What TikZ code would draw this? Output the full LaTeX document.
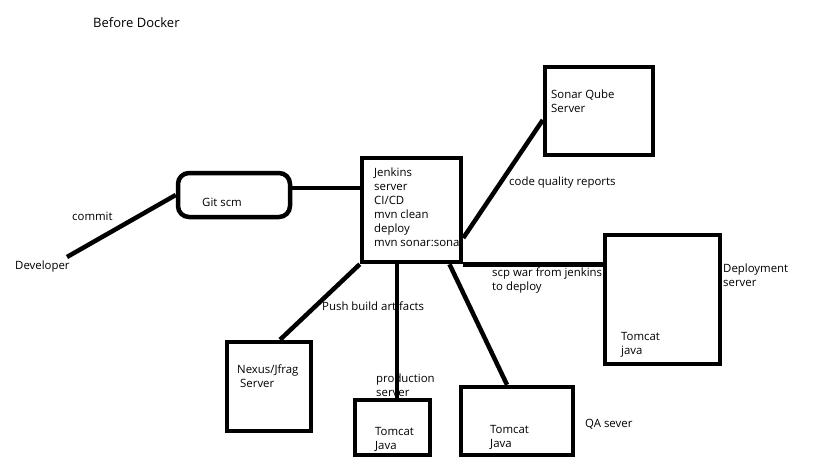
\documentclass[tikz,border=0pt]{standalone}
\usepackage{fontspec}
\setmainfont{Open Sans}
\usetikzlibrary{positioning}

\begin{document}
\begin{tikzpicture}
[x=1pt,y=-1pt,
font=\fontsize{11.4}{14}\selectfont,
server/.style={draw,line width=4.5pt,inner sep=0pt},
txt/.style={anchor=west,inner sep=0pt,align=left},
link/.style={line width=4.5pt}]

\useasboundingbox (0,0) rectangle (819,460);

% boxes
\node [server,rounded corners=11pt,minimum width=112pt,minimum height=44pt] (git) at (234,195) {};
\node [server,minimum width=99pt,minimum height=104pt] (jenkins) at (411.5,210) {};
\node [server,minimum width=108pt,minimum height=88pt] (sonar) at (599,111) {};
\node [server,minimum width=115pt,minimum height=129pt] (deploy) at (662.5,299.5) {};
\node [server,minimum width=84pt,minimum height=89pt] (nexus) at (269,386.5) {};
\node [server,minimum width=75pt,minimum height=55pt] (prod) at (392.5,427.5) {};
\node [server,minimum width=112pt,minimum height=68pt] (qa) at (517,421) {};

% texts
\node [txt,font=\fontsize{13}{15}\selectfont] (title) at (93,23) {Before Docker};
\node [txt] (dev) at (15,267) {Developer};
\node [txt] (commit) at (72,216) {commit};
\node [txt] (gittext) at (202,202) {Git scm};
\node [txt] (jenkinstext) at (374,207) {Jenkins\\server\\CI/CD\\mvn clean\\deploy\\mvn sonar:sona};
\node [txt] (sonartext) at (551,101) {Sonar Qube\\Server};
\node [txt] (reports) at (509,183) {code quality reports};
\node [txt] (scp) at (492,281) {scp war from jenkins\\to deploy};
\node [txt] (deploylabel) at (723,275) {Deployment\\server};
\node [txt] (deploytext) at (621,345) {Tomcat\\java};
\node [txt] (push) at (322,306) {Push build artifacts};
\node [txt] (nexustext) at (237,376) {Nexus/Jfrag\\\hspace{3pt}Server};
\node [txt] (prodlabel) at (376,385) {production\\server};
\node [txt] (prodtext) at (375,439) {Tomcat\\Java};
\node [txt] (qatext) at (490,437) {Tomcat\\Java};
\node [txt] (qalabel) at (585,424) {QA sever};

% connectors
\coordinate (devtip) at (67,257);
\draw [link] (devtip) -- (git.west);
\draw [link] ([yshift=7pt]git.east) -- ([yshift=7pt]git.east -| jenkins.west);
\draw [link] ([yshift=-28pt]jenkins.east) -- ([yshift=-9pt]sonar.west);
\draw [link] (jenkins.south east) -- (jenkins.south east -| deploy.west);
\draw [link] (jenkins.south west) -- ([xshift=11pt]nexus.north);
\draw [link] ([xshift=4.5pt]prod.north) -- ([xshift=4.5pt]prod.north |- jenkins.south);
\draw [link] ([xshift=38pt]jenkins.south) -- ([xshift=-10pt]qa.north);

\end{tikzpicture}
\end{document}
